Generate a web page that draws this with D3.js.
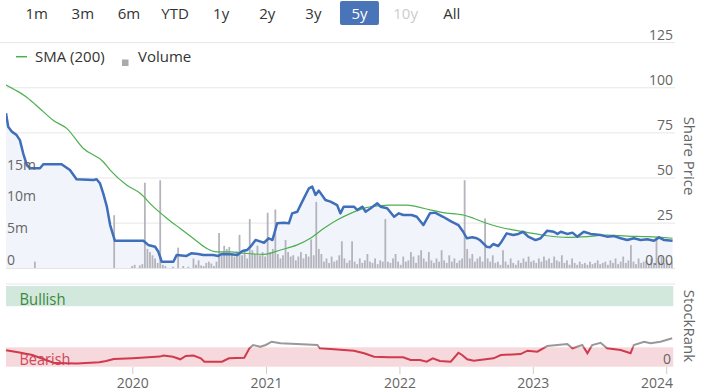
<!DOCTYPE html>
<html>
<head>
<meta charset="utf-8">
<script src="https://cdn.jsdelivr.net/npm/d3@7"></script>
<style>
  body { margin: 0; background: #fff; }
  svg text { font-family: "Open Sans", sans-serif; }
</style>
</head>
<body>
<svg id="chart" width="704" height="391"></svg>
<script>
// range buttons
var rangeButtons = ["1m", "3m", "6m", "YTD", "1y", "2y", "3y", "5y", "10y", "All"];
var selectedRange = "5y";
var disabledRange = "10y";

// share price (date, price)
var priceDates = ["2019-01-19","2019-01-25","2019-02-04","2019-02-17","2019-02-26","2019-03-07","2019-03-17","2019-03-26","2019-04-22","2019-05-01","2019-06-20","2019-07-13","2019-07-31","2019-09-15","2019-09-24","2019-10-03","2019-10-12","2019-10-22","2019-10-31","2019-11-13","2020-01-30","2020-02-12","2020-03-02","2020-03-11","2020-03-20","2020-04-21","2020-04-30","2020-05-27","2020-06-10","2020-06-28","2020-07-12","2020-08-08","2020-08-22","2020-08-31","2020-09-25","2020-10-13","2020-10-27","2020-11-09","2020-11-18","2020-12-02","2020-12-16","2020-12-25","2021-01-07","2021-01-17","2021-01-30","2021-02-17","2021-03-03","2021-03-12","2021-03-26","2021-04-13","2021-04-27","2021-05-06","2021-05-15","2021-05-24","2021-06-11","2021-06-25","2021-07-13","2021-07-22","2021-07-31","2021-08-28","2021-09-06","2021-09-20","2021-09-29","2021-10-13","2021-10-31","2021-11-09","2021-11-27","2021-12-16","2021-12-29","2022-01-10","2022-02-02","2022-02-16","2022-03-06","2022-03-24","2022-04-07","2022-04-29","2022-05-22","2022-06-10","2022-06-23","2022-07-03","2022-07-18","2022-07-30","2022-08-08","2022-08-26","2022-09-04","2022-09-13","2022-09-27","2022-10-06","2022-10-20","2022-11-07","2022-11-21","2022-12-04","2022-12-18","2023-01-07","2023-01-21","2023-02-08","2023-02-26","2023-03-08","2023-03-17","2023-04-04","2023-04-18","2023-05-01","2023-05-19","2023-06-07","2023-07-04","2023-07-22","2023-08-10","2023-08-28","2023-09-15","2023-10-03","2023-10-22","2023-11-09","2023-11-27","2023-12-11","2023-12-25","2024-01-17"];
var priceValues = [85.9,78.4,75.7,73.8,71,63.7,57.2,55.4,55.4,57.6,57.6,54.4,49.3,48.9,49.3,47.1,41.5,34.1,23.9,15.2,15.2,12.9,11.9,9.1,3.6,3.6,7.3,6.8,8.3,7.9,7.3,7.3,6.8,7.9,7.7,7.3,9.5,10.1,11.9,15.6,14.7,14.1,16.6,15.6,24.9,25.2,24.9,30.4,31.3,38.7,44.3,45.2,40.6,43,37.8,36.9,35,30.4,34.1,34.1,32.3,34.1,31.3,33.2,36,34.1,33.2,28.5,30.4,29.5,29.5,28.5,23.9,30.4,30.8,28.5,25.8,23.9,20.2,16.6,17.2,16.6,15.6,11.9,11.6,13.4,12.3,14.7,19.3,18.4,19,20.2,17.5,15.6,16.6,20.8,20.2,19,20.2,19,19.7,17.5,20.2,19,18.4,17.5,17.8,16.6,15.6,16.6,15.6,16,15.2,17.1,15.6,15.2];

// SMA (200)
var smaDates = ["2019-01-19","2019-02-13","2019-03-12","2019-03-26","2019-05-01","2019-05-28","2019-07-04","2019-08-18","2019-10-12","2019-10-31","2019-12-15","2020-01-21","2020-02-26","2020-04-03","2020-05-09","2020-06-14","2020-07-21","2020-08-17","2020-09-25","2020-10-31","2020-12-25","2021-02-08","2021-03-26","2021-05-01","2021-06-07","2021-07-13","2021-08-19","2021-09-24","2021-10-31","2021-12-06","2022-01-19","2022-02-16","2022-03-24","2022-04-29","2022-06-23","2022-07-21","2022-08-26","2022-10-02","2022-11-07","2022-12-14","2023-02-08","2023-04-04","2023-05-29","2023-07-22","2023-09-15","2023-11-09","2024-01-17"];
var smaValues = [101.5,98.8,95.5,93.2,86.8,82,77.5,66.5,59,54.4,46.1,41.5,34.1,27.7,22.1,16.6,11,9.1,9.1,8.3,7.7,10.1,12.9,16.6,22.1,26.7,30.4,33.2,34.5,35,35,34.1,32.3,30.8,29.5,27.7,24.9,22.7,21.2,19.9,18,17.1,17.5,18.4,17.8,17.5,16.6];

// weekly volume in millions, first week starting 2019-01-21
var volumeStart = "2019-01-21";
var volumeValues = [
  0,0,0,0,0,0,0,0,0,0, 0,1.0,0,0,0,0,0,0,0,0,
  0,0,0,0,0,0,0,0,0,0, 0,0,0,0,0,0,0,0,0,0,
  0,0,8.3,0,0,0,0,0,0,0.3, 0.5,0,0.4,0.6,13.4,3.0,2.5,2.0,1.5,0.8,
  13.8,0.5,0.3,0,0,0.2,0,3.2,0,0.3, 0,0.2,0,1.5,0.5,1.2,0.4,0.3,0.8,1.0,
  0.7,0.3,1.0,5.5,2.0,3.5,3.0,3.3,2.3,1.8, 2.6,5.2,2.0,3.0,1.5,7.7,2.8,2.2,3.5,2.0,
  2.5,1.8,8.7,2.5,3.0,9.2,2.2,1.5,2.0,4.4, 2.5,1.8,2.0,1.2,1.8,2.5,1.5,2.2,1.8,4.5,
  2.0,10.4,3.0,2.2,1.0,1.5,0.8,1.8,1.0,1.2, 2.0,4.2,1.5,0.8,1.2,4.2,1.0,0.6,1.5,0.8,
  1.2,2.2,1.0,0.8,1.5,0.6,1.2,1.0,7.7,1.0, 0.8,1.5,2.2,1.0,0.5,1.8,1.0,1.2,2.5,1.8,
  0.8,2.0,2.8,1.5,1.0,2.5,1.2,0.8,1.5,1.0, 2.8,1.2,0.8,2.0,1.0,1.5,0.8,1.2,1.5,13.8,
  3.0,1.5,2.2,1.0,1.5,1.8,1.0,7.8,1.5,1.0, 2.0,0.8,1.0,0.5,2.8,1.0,0.5,1.5,0.8,0.5,
  1.2,0.8,1.5,1.0,1.8,1.0,1.2,0.8,1.5,1.0, 1.8,1.2,1.5,0.8,1.8,1.2,1.0,2.0,0.8,1.2,
  0.5,1.5,0.8,0.5,1.0,0.6,0.8,0.5,1.0,0.6, 0.8,1.2,0.6,0.8,1.0,0.5,1.2,0.8,1.5,0.6,
  1.0,1.8,0.8,1.2,3.6,1.0,0.6,1.5,0.8,1.0, 1.2,0.6,1.5,0.8,4.9,1.0,1.8,0.8,1.2,0.6,
  1.0
];

// StockRank
var rankDates = ["2019-01-19","2019-02-25","2019-04-01","2019-05-10","2019-06-01","2019-08-01","2019-10-01","2019-10-20","2019-11-10","2020-01-01","2020-03-15","2020-03-25","2020-04-20","2020-05-10","2020-05-25","2020-06-15","2020-07-05","2020-07-15","2020-09-01","2020-09-20","2020-11-01","2020-11-15","2020-11-25","2020-12-15","2020-12-30","2021-01-15","2021-02-08","2021-03-25","2021-05-20","2021-05-27","2021-06-25","2021-08-28","2021-09-25","2021-10-22","2021-12-01","2022-01-10","2022-01-30","2022-02-25","2022-03-15","2022-04-01","2022-04-20","2022-05-20","2022-06-10","2022-06-20","2022-07-04","2022-07-22","2022-09-14","2022-10-04","2022-11-27","2022-12-16","2023-01-12","2023-02-08","2023-04-04","2023-04-18","2023-05-15","2023-05-29","2023-06-11","2023-07-04","2023-07-22","2023-08-28","2023-09-24","2023-10-03","2023-10-31","2023-11-18","2023-12-15","2024-01-16"];
var rankValues = [20.5,17.5,14.5,8,4.5,4,5.5,7,9.5,10.5,12.5,13.8,12.4,9.2,13.3,13.8,10.4,6.2,6.2,10.4,11.2,22.8,26.9,24.8,26.9,31,29,28,26.9,22.8,22,19.8,16.6,12.4,11.6,11.6,8.3,8.3,6.2,10.4,7,6.2,17.3,14.5,9.2,7.4,10.4,14.5,15.7,19.8,18.6,25.6,28,22.8,26.9,16.6,26.9,29.7,22.8,20.7,16.6,26.9,31,29,31,35.2];
var bearishBand = [0, 24];
var bullishBand = [75, 100];

// axis ticks
var priceTicks = [0, 25, 50, 75, 100, 125];
var volumeTicks = [0, 5, 10, 15];
var yearTicks = ["2020-01-01", "2021-01-01", "2022-01-01", "2023-01-01", "2024-01-01"];

var parse = d3.utcParse("%Y-%m-%d");
var svg = d3.select("#chart");

var left = 6, right = 673.3;
var x = d3.scaleUtc().domain([parse("2019-01-19"), parse("2024-01-19")]).range([left, right]);
var yPrice = d3.scaleLinear().domain([0, 125]).range([268.2, 42.7]);
var yVol = d3.scaleLinear().domain([0, 15]).range([268, 172.6]);
var yRank = d3.scaleLinear().domain([0, 100]).range([366.7, 286]);

var grey = "#666";

// range selector
var btnX = d3.scalePoint().domain(rangeButtons).range([36.7, 451.7]);
svg.append("rect").attr("x", btnX(selectedRange) - 19.5).attr("y", 1)
  .attr("width", 39).attr("height", 24).attr("rx", 2).attr("fill", "#4a74b8");
svg.selectAll(".btn").data(rangeButtons).enter().append("text")
  .attr("x", function(d) { return btnX(d); })
  .attr("y", 18.5)
  .attr("text-anchor", "middle")
  .attr("font-size", "15px")
  .attr("fill", function(d) { return d === selectedRange ? "#fff" : d === disabledRange ? "#ccc" : "#333"; })
  .text(function(d) { return d; });

// price grid
svg.selectAll(".grid").data(priceTicks.slice(1)).enter().append("line")
  .attr("x1", function(d) { return d === 125 ? 0 : left; }).attr("x2", 675)
  .attr("y1", function(d) { return yPrice(d); }).attr("y2", function(d) { return yPrice(d); })
  .attr("stroke", "#e6e6e6");
svg.append("line").attr("x1", left).attr("x2", 675).attr("y1", 268.5).attr("y2", 268.5).attr("stroke", "#e0e0e0");

// legend
svg.append("line").attr("x1", 16).attr("x2", 27).attr("y1", 56.7).attr("y2", 56.7)
  .attr("stroke", "#4caf50").attr("stroke-width", 1.5);
svg.append("text").attr("x", 35).attr("y", 62).attr("font-size", "15px").attr("fill", "#333").text("SMA (200)");
svg.append("rect").attr("x", 122).attr("y", 59.5).attr("width", 6.5).attr("height", 6.5).attr("fill", "#aaa");
svg.append("text").attr("x", 138).attr("y", 62).attr("font-size", "15px").attr("fill", "#333").text("Volume");

svg.append("clipPath").attr("id", "plotClip").append("rect")
  .attr("x", left).attr("y", 40).attr("width", right - left).attr("height", 229);
var plot = svg.append("g").attr("clip-path", "url(#plotClip)");

var price = priceDates.map(function(d, i) { return { date: parse(d), value: priceValues[i] }; });
var sma = smaDates.map(function(d, i) { return { date: parse(d), value: smaValues[i] }; });
var vol = volumeValues.map(function(v, i) { return { date: d3.utcDay.offset(parse(volumeStart), i * 7), value: v }; });

plot.append("path").datum(price)
  .attr("d", d3.area().x(function(d) { return x(d.date); }).y0(268.2).y1(function(d) { return yPrice(d.value); }))
  .attr("fill", "#f2f4fb");

plot.selectAll(".vol").data(vol.filter(function(d) { return d.value > 0; })).enter().append("rect")
  .attr("x", function(d) { return x(d.date) - 0.9; })
  .attr("y", function(d) { return yVol(d.value); })
  .attr("width", 1.8)
  .attr("height", function(d) { return yVol(0) - yVol(d.value); })
  .attr("fill", "#b4b4bc");

var priceLine = d3.line().x(function(d) { return x(d.date); }).y(function(d) { return yPrice(d.value); });
var smaLine = d3.line().curve(d3.curveMonotoneX).x(function(d) { return x(d.date); }).y(function(d) { return yPrice(d.value); });
plot.append("path").datum(sma).attr("d", smaLine)
  .attr("fill", "none").attr("stroke", "#4caf50").attr("stroke-width", 1.2);
plot.append("path").datum(price).attr("d", priceLine)
  .attr("fill", "none").attr("stroke", "#3f6fba").attr("stroke-width", 2.5).attr("stroke-linejoin", "round");

// axis labels
svg.selectAll(".pl").data(priceTicks).enter().append("text")
  .attr("x", 673).attr("y", function(d) { return yPrice(d) - 3; })
  .attr("text-anchor", "end").attr("font-size", "14px").attr("fill", grey)
  .text(function(d) { return d === 0 ? "0.00" : d; });
svg.selectAll(".vl").data(volumeTicks).enter().append("text")
  .attr("x", 7).attr("y", function(d) { return yVol(d) - 3; })
  .attr("font-size", "14px").attr("fill", grey)
  .text(function(d) { return d === 0 ? "0" : d + "m"; });
svg.append("text").attr("transform", "translate(684,156) rotate(90)")
  .attr("text-anchor", "middle").attr("font-size", "15px").attr("fill", grey).text("Share Price");

// StockRank panel
svg.append("line").attr("x1", left).attr("x2", 675).attr("y1", 284).attr("y2", 284).attr("stroke", "#e6e6e6");
svg.append("rect").attr("x", left).attr("width", right - left)
  .attr("y", yRank(bullishBand[1])).attr("height", yRank(bullishBand[0]) - yRank(bullishBand[1]))
  .attr("fill", "#d3e8dc");
svg.append("rect").attr("x", left).attr("width", right - left)
  .attr("y", yRank(bearishBand[1])).attr("height", yRank(bearishBand[0]) - yRank(bearishBand[1]))
  .attr("fill", "#f5d9dc");
svg.append("text").attr("x", 19.5).attr("y", 304.5).attr("font-size", "17px")
  .attr("textLength", 46).attr("lengthAdjust", "spacingAndGlyphs")
  .attr("fill", "#3a8a3e").text("Bullish");
svg.append("text").attr("x", 19.5).attr("y", 365).attr("font-size", "17px")
  .attr("textLength", 51).attr("lengthAdjust", "spacingAndGlyphs")
  .attr("fill", "#d0485a").text("Bearish");

var rank = rankDates.map(function(d, i) { return { date: parse(d), value: rankValues[i] }; });
var ty = yRank(bearishBand[1]);
svg.append("clipPath").attr("id", "rankLow").append("rect").attr("x", 0).attr("y", ty).attr("width", 704).attr("height", 100);
svg.append("clipPath").attr("id", "rankHigh").append("rect").attr("x", 0).attr("y", 280).attr("width", 704).attr("height", ty - 280);
var rankLine = d3.line().x(function(d) { return x(d.date); }).y(function(d) { return yRank(d.value); });
svg.append("path").datum(rank).attr("d", rankLine).attr("clip-path", "url(#rankHigh)")
  .attr("fill", "none").attr("stroke", "#999").attr("stroke-width", 2);
svg.append("path").datum(rank).attr("d", rankLine).attr("clip-path", "url(#rankLow)")
  .attr("fill", "none").attr("stroke", "#d03a4c").attr("stroke-width", 2);

svg.append("text").attr("x", 671).attr("y", yRank(0) - 3).attr("text-anchor", "end")
  .attr("font-size", "14px").attr("fill", grey).text("0");
svg.append("text").attr("transform", "translate(684,326) rotate(90)")
  .attr("text-anchor", "middle").attr("font-size", "15px").attr("fill", grey).text("StockRank");

// x axis
var years = yearTicks.map(parse);
svg.selectAll(".xt").data(years).enter().append("line")
  .attr("x1", function(d) { return x(d); }).attr("x2", function(d) { return x(d); })
  .attr("y1", 367).attr("y2", 374).attr("stroke", "#ccc");
svg.selectAll(".xl").data(years).enter().append("text")
  .attr("x", function(d, i) { return i === years.length - 1 ? 673 : x(d); })
  .attr("y", 388)
  .attr("text-anchor", function(d, i) { return i === years.length - 1 ? "end" : "middle"; })
  .attr("font-size", "14px").attr("fill", grey)
  .text(d3.utcFormat("%Y"));
</script>
</body>
</html>
